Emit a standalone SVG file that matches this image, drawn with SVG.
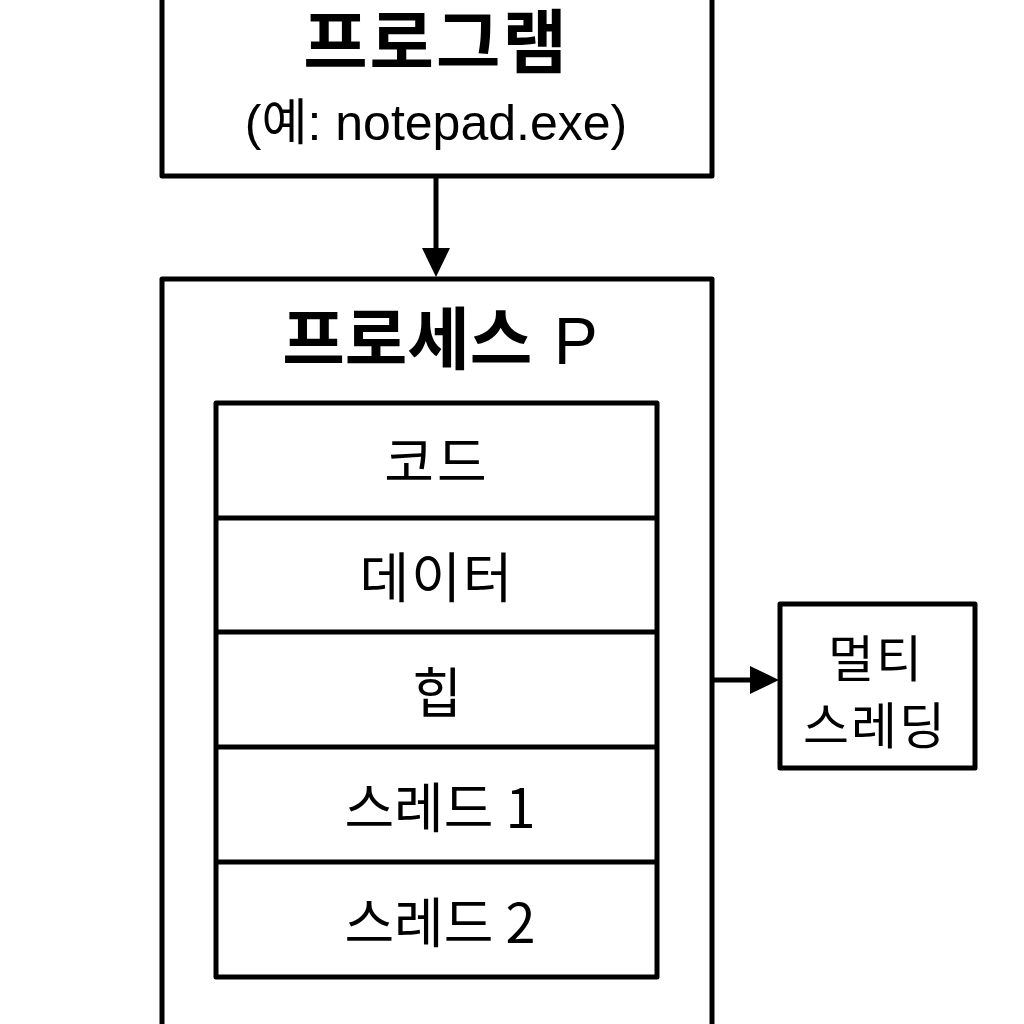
<svg xmlns="http://www.w3.org/2000/svg" width="1024" height="1024" viewBox="0 0 1024 1024">
<defs>
<style>
.box{fill:#fff;stroke:#000;stroke-width:5;stroke-linejoin:round}
.ln{stroke:#000;stroke-width:5;fill:none}
text{font-family:"Liberation Sans","Noto Sans CJK KR",sans-serif;fill:#000;text-anchor:middle}
.ko{font-family:"Noto Sans CJK KR","Liberation Sans",sans-serif}
.b{font-weight:bold}
.r{font-weight:normal;font-family:"Liberation Sans",sans-serif}
</style>
</defs>
<rect width="1024" height="1024" fill="#fff"/>
<g id="connectors">
<line class="ln" x1="436" y1="176" x2="436" y2="250"/>
<path d="M422,248 L450,248 L436,277 z" fill="#000"/>
<line class="ln" x1="712" y1="680" x2="752" y2="680"/>
<path d="M750,666 L779,680 L750,694 z" fill="#000"/>
</g>
<g id="program">
<rect class="box" x="162" y="-10" width="550" height="186"/>
<text class="ko b" x="436" y="68" font-size="70" letter-spacing="2">프로그램</text>
<text x="436" y="140" font-size="50">(<tspan class="ko">예</tspan>: notepad.exe)</text>
</g>
<g id="process">
<rect class="box" x="162" y="279" width="550" height="760"/>
<text class="ko b" x="440" y="364" font-size="68">프로세스 <tspan class="r" font-size="66" dx="6">P</tspan></text>
</g>
<g id="segments">
<rect class="box" x="216" y="403" width="441" height="574"/>
<line class="ln" x1="216" y1="518" x2="657" y2="518"/>
<line class="ln" x1="216" y1="632" x2="657" y2="632"/>
<line class="ln" x1="216" y1="747" x2="657" y2="747"/>
<line class="ln" x1="216" y1="862" x2="657" y2="862"/>
</g>
<g id="seg-code"><text class="ko" x="437" y="482" font-size="54" letter-spacing="3">코드</text></g>
<g id="seg-data"><text class="ko" x="437" y="598" font-size="54" letter-spacing="2">데이터</text></g>
<g id="seg-heap"><text class="ko" x="437" y="713" font-size="54">힙</text></g>
<g id="seg-thread1"><text class="ko" x="440" y="828" font-size="54">스레드 1</text></g>
<g id="seg-thread2"><text class="ko" x="440" y="943" font-size="54">스레드 2</text></g>
<g id="multithreading">
<rect class="box" x="780" y="604" width="195" height="164"/>
<text class="ko" x="876" y="677" font-size="50" letter-spacing="2">멀티</text>
<text class="ko" x="875" y="744" font-size="50" letter-spacing="2">스레딩</text>
</g>
</svg>
